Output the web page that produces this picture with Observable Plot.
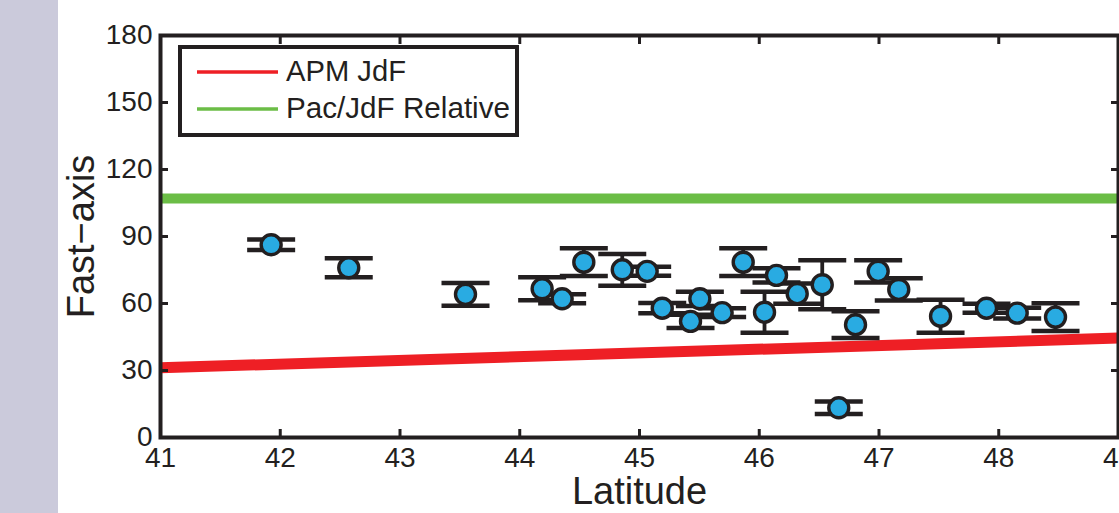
<!DOCTYPE html>
<html>
<head>
<meta charset="utf-8">
<script src="https://cdn.jsdelivr.net/npm/d3@7"></script>
<script src="https://cdn.jsdelivr.net/npm/@observablehq/plot@0.6"></script>
<style>
html, body { margin: 0; padding: 0; background: #fff; }
#wrap { position: relative; width: 1119px; height: 513px; overflow: hidden; background: #fff;
        font-family: "Liberation Sans", Arial, Helvetica, sans-serif; }
#strip { position: absolute; left: 0; top: 0; width: 58px; height: 513px; background: #cbcadb; }
#chart { position: absolute; left: 0; top: 0; }
#legend { position: absolute; left: 0; top: 0; pointer-events: none; }
</style>
</head>
<body>
<div id="wrap">
  <div id="strip"></div>
  <div id="chart"></div>
  <svg id="legend" width="1119" height="513"></svg>
</div>
<script>
// ---- data ----
const latitude = [41.924, 42.572, 43.547, 44.187, 44.354, 44.535, 44.856, 45.064, 45.19, 45.426,
                  45.504, 45.69, 45.866, 46.044, 46.144, 46.317, 46.526, 46.664, 46.804, 46.993,
                  47.165, 47.514, 47.898, 48.154, 48.474];
const fastAxis = [86.3, 76.0, 64.1, 66.6, 62.1, 78.5, 75.1, 74.4, 57.9, 52.0,
                  62.1, 55.9, 78.5, 56.1, 72.6, 64.4, 68.4, 13.3, 50.5, 74.4,
                  66.3, 54.3, 57.9, 55.7, 53.9];
const fastErr  = [2.4, 4.3, 5.1, 5.2, 2.0, 6.2, 7.1, 2.0, 2.3, 3.0,
                  3.2, 2.0, 6.2, 9.2, 3.2, 4.5, 11.0, 2.8, 6.0, 5.0,
                  5.0, 7.4, 2.0, 2.4, 6.2];
const apmLat = [41, 49];
const apmValue = [31.2, 44.5];
const relativeValue = [107];
const xTicks = [41, 42, 43, 44, 45, 46, 47, 48, 49];
const yTicks = [0, 30, 60, 90, 120, 150, 180];
const legendNames = ["APM JdF", "Pac/JdF Relative"];
const legendColors = ["#ee1f25", "#6bbd46"];
const pointColor = "#29abe2";
const ink = "#231f20";
const xLabel = "Latitude";
const yLabel = "Fast\u2212axis";

// ---- build ----
const pts = latitude.map((x, i) => ({x, y: fastAxis[i], lo: fastAxis[i] - fastErr[i], hi: fastAxis[i] + fastErr[i]}));
const apm = apmLat.map((x, i) => ({x, y: apmValue[i]}));
const capSymbol = {
  draw(ctx, size) { const w = Math.sqrt(size / Math.PI); ctx.moveTo(-w, 0); ctx.lineTo(w, 0); }
};
const font = "'Liberation Sans', Arial, Helvetica, sans-serif";
const fmt = d => String(d);

const chart = Plot.plot({
  width: 1119, height: 513,
  marginLeft: 160, marginRight: 1, marginTop: 35, marginBottom: 76,
  x: {domain: [41, 49]},
  y: {domain: [0, 180]},
  style: {fontFamily: font, fontSize: "28px", color: ink, background: "transparent", overflow: "visible"},
  marks: [
    Plot.line(apm, {x: "x", y: "y", stroke: legendColors[0], strokeWidth: 11, strokeLinecap: "butt"}),
    Plot.ruleY(relativeValue, {stroke: legendColors[1], strokeWidth: 10}),
    Plot.ruleX(pts, {x: "x", y1: "lo", y2: "hi", stroke: ink, strokeWidth: 3.8}),
    Plot.dot(pts, {x: "x", y: "lo", symbol: capSymbol, r: 24, fill: "none", stroke: ink, strokeWidth: 4.5}),
    Plot.dot(pts, {x: "x", y: "hi", symbol: capSymbol, r: 24, fill: "none", stroke: ink, strokeWidth: 4.5}),
    Plot.dot(pts, {x: "x", y: "y", r: 10, fill: pointColor, stroke: ink, strokeWidth: 3.4}),
    // inward tick marks on all four sides
    Plot.axisX(xTicks, {anchor: "bottom", tickSize: 8, dy: -8, tickFormat: () => "", label: null, stroke: ink, strokeWidth: 3}),
    Plot.axisX(xTicks, {anchor: "top", tickSize: 8, dy: 8, tickFormat: () => "", label: null, stroke: ink, strokeWidth: 3}),
    Plot.axisY(yTicks, {anchor: "left", tickSize: 8, dx: 8, tickFormat: () => "", label: null, stroke: ink, strokeWidth: 3}),
    Plot.axisY(yTicks, {anchor: "right", tickSize: 8, dx: -8, tickFormat: () => "", label: null, stroke: ink, strokeWidth: 3}),
    // tick labels
    Plot.axisX(xTicks, {anchor: "bottom", tickSize: 0, tickPadding: 10, tickFormat: fmt, label: null, fill: ink, fontSize: 28}),
    Plot.axisY(yTicks, {anchor: "left", tickSize: 0, tickPadding: 8, tickFormat: fmt, label: null, fill: ink, fontSize: 28}),
    // axis titles
    Plot.axisX([], {anchor: "bottom", tickSize: 0, label: xLabel, labelAnchor: "center", labelArrow: "none", labelOffset: 66, fill: ink, fontSize: 38}),
    Plot.axisY([], {anchor: "left", tickSize: 0, label: yLabel, labelAnchor: "center", labelArrow: "none", labelOffset: 93, fill: ink, fontSize: 38}),
    Plot.frame({stroke: ink, strokeWidth: 4})
  ]
});
document.getElementById("chart").appendChild(chart);

// ---- legend (inside the plot, upper left) ----
const lg = d3.select("#legend");
lg.append("rect").attr("x", 180).attr("y", 47).attr("width", 337).attr("height", 88)
  .attr("fill", "#fff").attr("stroke", ink).attr("stroke-width", 4);
legendNames.forEach((name, i) => {
  const yy = 72 + 37 * i;
  lg.append("line").attr("x1", 197).attr("x2", 278).attr("y1", yy).attr("y2", yy)
    .attr("stroke", legendColors[i]).attr("stroke-width", 3.5);
  lg.append("text").attr("x", 286).attr("y", yy + 9).text(name)
    .attr("fill", ink).attr("font-family", font).attr("font-size", 29)
    .attr("textLength", i === 0 ? 120 : 224).attr("lengthAdjust", "spacingAndGlyphs");
});
</script>
</body>
</html>
